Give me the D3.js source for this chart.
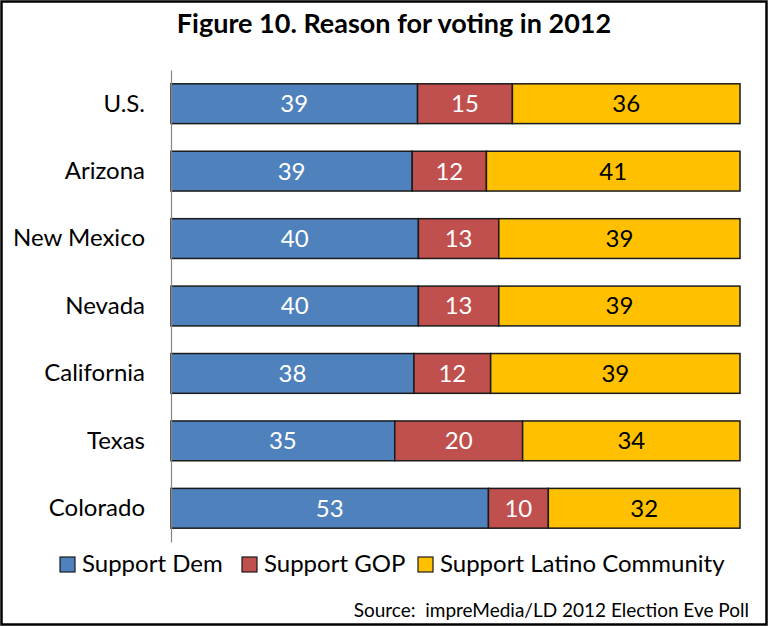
<!DOCTYPE html>
<html><head><meta charset="utf-8">
<script src="https://cdn.jsdelivr.net/npm/d3@7/dist/d3.min.js"></script>
<style>body{margin:0;background:#fff}svg{display:block}</style>
</head><body>
<script>
const categories = ["U.S.","Arizona","New Mexico","Nevada","California","Texas","Colorado"];
const seriesNames = ["Support Dem","Support GOP","Support Latino Community"];
const dem = [39,39,40,40,38,35,53];
const gop = [15,12,13,13,12,20,10];
const latino = [36,41,39,39,39,34,32];
const colors = ["#4F81BD","#C0504D","#FFC000"];
const textColors = ["#fff","#fff","#000"];

const W=770,H=627;
const font="Lato, Carlito, Calibri, sans-serif";
const svg=d3.select("body").append("svg").attr("width",W).attr("height",H);
svg.append("rect").attr("x",1.5).attr("y",1.5).attr("width",W-5).attr("height",H-4)
  .attr("fill","#fff").attr("stroke","#000").attr("stroke-width",2.5);

svg.append("text").attr("x",394).attr("y",33).attr("text-anchor","middle")
  .attr("font-family",font).attr("font-weight","bold").attr("font-size",27)
  .text("Figure 10. Reason for voting in 2012");

const rows=categories.map((c,i)=>({cat:c,vals:[dem[i],gop[i],latino[i]]}));
const x=d3.scaleLinear().domain([0,1]).range([171,740]);
const y=d3.scaleBand().domain(categories).range([70,542]).paddingInner(0.41).paddingOuter(0.205);

const g=svg.append("g");
rows.forEach(r=>{
  const tot=d3.sum(r.vals);
  let acc=0;
  r.vals.forEach((v,j)=>{
    const x0=x(acc/tot), x1=x((acc+v)/tot);
    acc+=v;
    g.append("rect").attr("x",x0).attr("y",y(r.cat)).attr("width",x1-x0).attr("height",y.bandwidth())
      .attr("fill",colors[j]).attr("stroke","#1a1a1a").attr("stroke-width",1.5);
    g.append("text").attr("x",(x0+x1)/2).attr("y",y(r.cat)+y.bandwidth()/2).attr("dy","0.35em")
      .attr("text-anchor","middle").attr("font-family",font).attr("font-size",24)
      .attr("fill",textColors[j]).text(v);
  });
});

// axis
const ax=d3.axisLeft(y).tickSize(0).tickPadding(26);
const axg=svg.append("g").attr("transform","translate(171,0)").call(ax);
axg.select(".domain").attr("stroke","#868686").attr("stroke-width",1.2);
axg.selectAll("text").attr("font-family",font).attr("font-size",24).attr("fill","#000").attr("dy","0.33em");

// legend
const legendX=[60,242,418];
const lg=svg.append("g");
seriesNames.forEach((s,j)=>{
  lg.append("rect").attr("x",legendX[j]).attr("y",557).attr("width",15).attr("height",15)
    .attr("fill",colors[j]).attr("stroke","#1a1a1a").attr("stroke-width",1.2);
  lg.append("text").attr("x",legendX[j]+22).attr("y",572)
    .attr("font-family",font).attr("font-size",24).text(s);
});

svg.append("text").attr("x",749).attr("y",617).attr("text-anchor","end")
  .attr("font-family",font).attr("font-size",19).attr("xml:space","preserve")
  .text("Source:  impreMedia/LD 2012 Election Eve Poll");
</script>
</body></html>
